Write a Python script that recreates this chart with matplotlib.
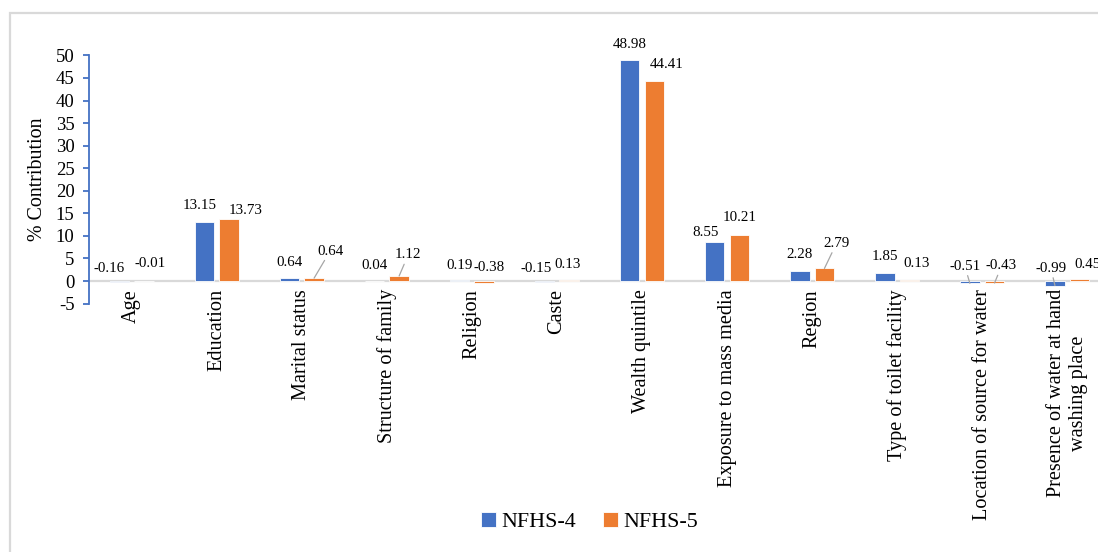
import matplotlib
matplotlib.use("Agg")
import matplotlib.pyplot as plt
from matplotlib.patches import Rectangle
import numpy as np

plt.rcParams['font.family'] = ['Liberation Serif', 'DejaVu Serif']
plt.rcParams['axes.unicode_minus'] = False

categories = ["Age", "Education", "Marital status", "Structure of family", "Religion",
              "Caste", "Wealth quintile", "Exposure to mass media", "Region",
              "Type of toilet facility", "Location of source for water",
              "Presence of water at hand\nwashing place"]
nfhs4 = [-0.16, 13.15, 0.64, 0.04, 0.19, -0.15, 48.98, 8.55, 2.28, 1.85, -0.51, -0.99]
nfhs5 = [-0.01, 13.73, 0.64, 1.12, -0.38, 0.13, 44.41, 10.21, 2.79, 0.13, -0.43, 0.45]
series_names = ["NFHS-4", "NFHS-5"]
yticks = list(range(-5, 55, 5))

# label placement (pixel offsets of the label centre from the bar end, leader line flag)
label_pos4 = [(-10, 13, False), (-5, 16, False), (0, 16, False), (0, 15, False),
              (0, 15, False), (-8, 13, False), (0, 16, False), (-9, 10, False),
              (0, 16, False), (0, 16, False), (-5, 17, True), (-4, 17, True)]
label_pos5 = [(6, 18, False), (17, 9, False), (16, 27, True), (9, 21, True),
              (5, 14, False), (-2, 16, False), (12, 16, False), (0, 17, False),
              (12, 25, True), (7, 17, False), (7, 17, True), (8, 15, False)]

BLUE = "#4472C4"
ORANGE = "#ED7D31"
GRID = "#D9D9D9"

fig = plt.figure(figsize=(10.98, 5.52), dpi=100)
ax = fig.add_axes([0.08115, 0.45, 0.9296, 0.4496])

x = np.arange(len(categories))
w = 0.23
off = 0.145
b4 = ax.bar(x - off, nfhs4, w, color=BLUE, edgecolor="white", linewidth=0.6,
            label=series_names[0], zorder=3)
b5 = ax.bar(x + off, nfhs5, w, color=ORANGE, edgecolor="white", linewidth=0.6,
            label=series_names[1], zorder=3)

ax.axhline(0, color=GRID, lw=1.6, zorder=2)

ax.set_xlim(-0.5, len(categories) - 0.5)
ax.set_ylim(-5, 50)
ax.set_yticks(yticks)
ax.tick_params(axis="y", direction="out", length=4.5, width=1.3, color=BLUE,
               labelsize=13.5, pad=6)
ax.set_xticks(x)
ax.set_xticklabels(categories, rotation=90, fontsize=14.6, va="top", ha="center",
                   multialignment="center")
ax.tick_params(axis="x", length=0, pad=-10.5)

for s in ("top", "right", "bottom"):
    ax.spines[s].set_visible(False)
ax.spines["left"].set_color(BLUE)
ax.spines["left"].set_linewidth(1.3)

ax.set_ylabel("% Contribution", fontsize=14.4, labelpad=6)


def add_labels(xs, vals, positions):
    for xi, v, (dx, dy, leader) in zip(xs, vals, positions):
        y0 = max(v, 0)
        props = None
        if leader:
            props = dict(arrowstyle="-", color="#A6A6A6", lw=0.9, shrinkA=0, shrinkB=0)
        ax.annotate(f"{v:.2f}", xy=(xi, v if leader else y0), xytext=(dx, dy),
                    textcoords="offset pixels", ha="center", va="center",
                    fontsize=10.8, arrowprops=props, zorder=5,
                    annotation_clip=False)


add_labels(x - off, nfhs4, label_pos4)
add_labels(x + off, nfhs5, label_pos5)

fig.legend(handles=[b4, b5], labels=series_names, loc="center",
           bbox_to_anchor=(0.537, 0.054), ncol=2, frameon=False, fontsize=15.8,
           handlelength=0.7, handleheight=0.7, handletextpad=0.25,
           columnspacing=1.2)

fig.patches.append(Rectangle((9.5 / 1098, -0.05), 1.2, (552 - 12.5) / 552 + 0.05,
                             transform=fig.transFigure, fill=False,
                             edgecolor=GRID, lw=1.6))

fig.savefig("out.png", dpi=100, facecolor="white")
